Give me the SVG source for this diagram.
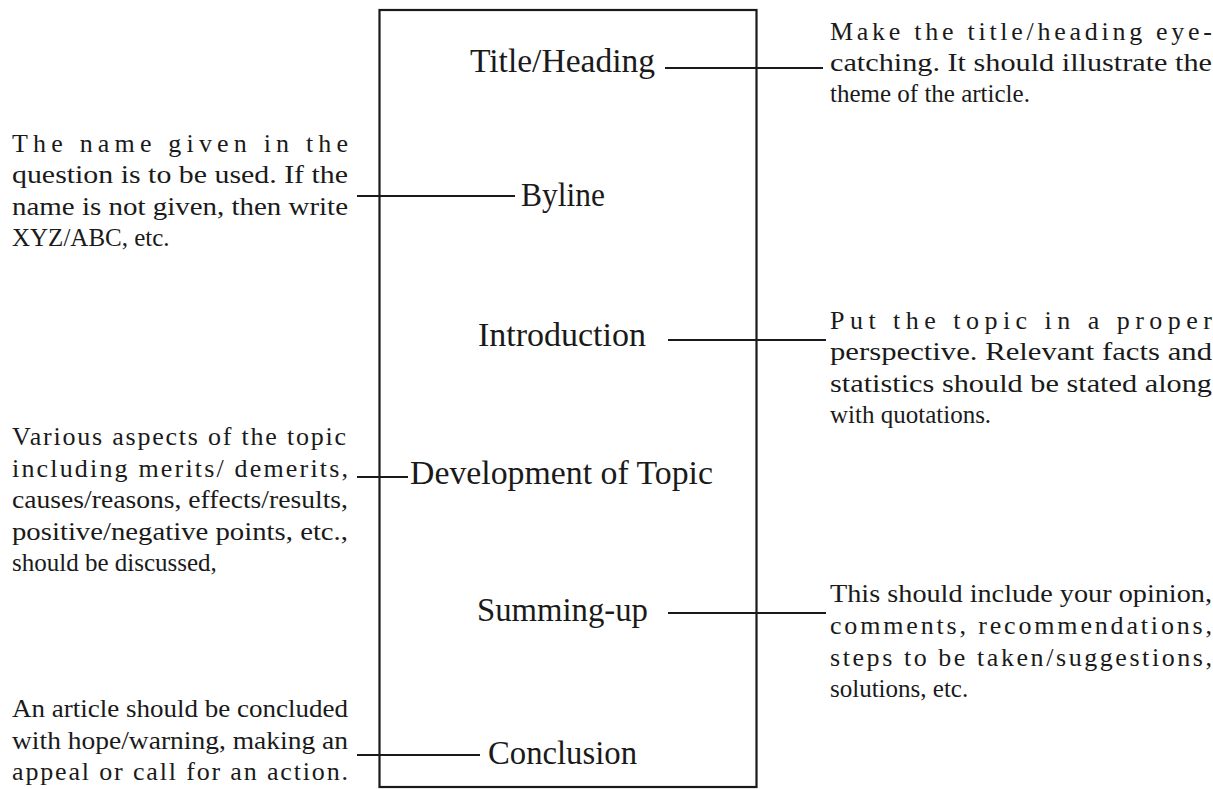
<svg xmlns="http://www.w3.org/2000/svg" width="1213" height="789" viewBox="0 0 1213 789">
<style>
.node{font-family:"Liberation Serif","Times New Roman",serif;font-size:33px;fill:#1a1a1a}
.desc{font-family:"Liberation Serif","Times New Roman",serif;font-size:26px;fill:#1a1a1a}
.last{font-size:25px}
.conn line{stroke:#1a1a1a;stroke-width:2}
.frame{fill:none;stroke:#1a1a1a;stroke-width:2.2}
</style>
<rect width="1213" height="789" fill="#ffffff"/>
<rect class="frame" x="379.500" y="10" width="377" height="777"/>
<g id="connectors" class="conn">
<line x1="665" y1="68" x2="823" y2="68"/>
<line x1="357" y1="196" x2="515" y2="196"/>
<line x1="668" y1="340" x2="826" y2="340"/>
<line x1="357" y1="477" x2="408" y2="477"/>
<line x1="668" y1="613" x2="826" y2="613"/>
<line x1="357" y1="755" x2="480" y2="755"/>
</g>
<g id="title">
<text class="node" x="470" y="72" textLength="185" lengthAdjust="spacingAndGlyphs">Title/Heading</text>
<text class="desc" x="830" y="40" textLength="382" lengthAdjust="spacing">Make the title/heading eye-</text>
<text class="desc" x="830" y="71" textLength="382" lengthAdjust="spacingAndGlyphs">catching. It should illustrate the</text>
<text class="desc last" x="830" y="102">theme of the article.</text>
</g>
<g id="byline">
<text class="node" x="521" y="206" textLength="84" lengthAdjust="spacingAndGlyphs">Byline</text>
<text class="desc" x="12" y="152" textLength="336" lengthAdjust="spacing">The name given in the</text>
<text class="desc" x="12" y="183" textLength="336" lengthAdjust="spacingAndGlyphs">question is to be used. If the</text>
<text class="desc" x="12" y="215" textLength="336" lengthAdjust="spacingAndGlyphs">name is not given, then write</text>
<text class="desc last" x="12" y="246">XYZ/ABC, etc.</text>
</g>
<g id="introduction">
<text class="node" x="478" y="346" textLength="168" lengthAdjust="spacingAndGlyphs">Introduction</text>
<text class="desc" x="830" y="329" textLength="382" lengthAdjust="spacing">Put the topic in a proper</text>
<text class="desc" x="830" y="360" textLength="382" lengthAdjust="spacingAndGlyphs">perspective. Relevant facts and</text>
<text class="desc" x="830" y="392" textLength="382" lengthAdjust="spacingAndGlyphs">statistics should be stated along</text>
<text class="desc last" x="830" y="423">with quotations.</text>
</g>
<g id="development">
<text class="node" x="410" y="484" textLength="303" lengthAdjust="spacingAndGlyphs">Development of Topic</text>
<text class="desc" x="12" y="445" textLength="334" lengthAdjust="spacing">Various aspects of the topic</text>
<text class="desc" x="12" y="477" textLength="336" lengthAdjust="spacing">including merits/ demerits,</text>
<text class="desc" x="12" y="508" textLength="336" lengthAdjust="spacingAndGlyphs">causes/reasons, effects/results,</text>
<text class="desc" x="12" y="540" textLength="336" lengthAdjust="spacingAndGlyphs">positive/negative points, etc.,</text>
<text class="desc last" x="12" y="571">should be discussed,</text>
</g>
<g id="summing-up">
<text class="node" x="477" y="621" textLength="171" lengthAdjust="spacingAndGlyphs">Summing-up</text>
<text class="desc" x="830" y="602" textLength="382" lengthAdjust="spacingAndGlyphs">This should include your opinion,</text>
<text class="desc" x="830" y="634" textLength="382" lengthAdjust="spacing">comments, recommendations,</text>
<text class="desc" x="830" y="666" textLength="382" lengthAdjust="spacing">steps to be taken/suggestions,</text>
<text class="desc last" x="830" y="697">solutions, etc.</text>
</g>
<g id="conclusion">
<text class="node" x="488" y="764" textLength="149" lengthAdjust="spacingAndGlyphs">Conclusion</text>
<text class="desc" x="12" y="717" textLength="336" lengthAdjust="spacingAndGlyphs">An article should be concluded</text>
<text class="desc" x="12" y="749" textLength="336" lengthAdjust="spacingAndGlyphs">with hope/warning, making an</text>
<text class="desc" x="12" y="780" textLength="336" lengthAdjust="spacing">appeal or call for an action.</text>
</g>
</svg>
